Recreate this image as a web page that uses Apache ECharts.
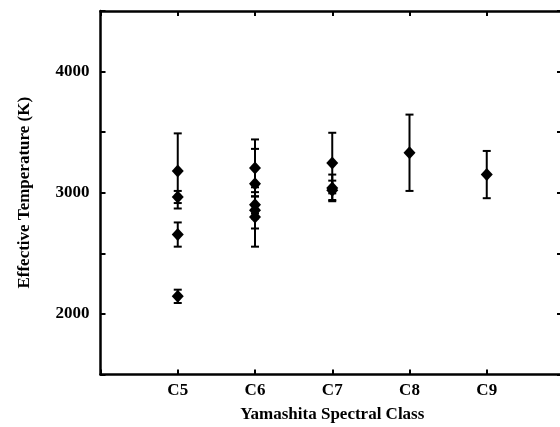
<!DOCTYPE html>
<html><head><meta charset="utf-8">
<script src="https://cdn.jsdelivr.net/npm/echarts@6/dist/echarts.min.js"></script>
<style>html,body{margin:0;padding:0;background:#fff}#c{width:560px;height:427px}</style>
</head><body><div id="c"></div>
<script>
var classLabels = ['C5','C6','C7','C8','C9'];
var classIndex = [5, 5, 5, 5, 6, 6, 6, 6, 6, 7, 7, 7, 8, 9];
var temps      = [3180, 2965, 2655, 2145, 3205, 3075, 2900, 2855, 2800, 3245, 3040, 3020, 3330, 3150];
var errors     = [310, 50, 100, 55, 235, 287, 70, 150, 245, 250, 110, 80, 315, 195];
var yTicks = [2000, 3000, 4000];

var F = '"Liberation Serif", "DejaVu Serif", serif';
var points = classIndex.map(function(c, i){ return [c, temps[i], errors[i]]; });

var axisLine = {show:true, lineStyle:{color:'#000', width:2.5}};
var ticks = {show:true, inside:true, length:5, lineStyle:{color:'#000', width:2}};
var ticksRight = {show:true, inside:true, length:7, lineStyle:{color:'#000', width:2}};

var chart = echarts.init(document.getElementById('c'));
chart.setOption({
  animation:false,
  backgroundColor:'#fff',
  grid:{left:100.5, top:11, width:463.5, height:363.5, outerBoundsMode:'none', containLabel:false},
  xAxis:[{
    type:'value', min:4, max:10, interval:1, position:'bottom',
    axisLine:axisLine, axisTick:ticks, splitLine:{show:false},
    axisLabel:{margin:8, fontFamily:F, fontWeight:'bold', fontSize:17, color:'#000',
      formatter:function(v){ var k=v-5; return (k>=0 && k<classLabels.length)?classLabels[k]:''; }},
    name:'Yamashita Spectral Class', nameLocation:'middle', nameGap:32,
    nameTextStyle:{fontFamily:F, fontWeight:'bold', fontSize:17, color:'#000'}
  },{
    type:'value', min:4, max:10, interval:1, position:'top',
    axisLine:axisLine, axisTick:ticks, axisLabel:{show:false}, splitLine:{show:false}
  }],
  yAxis:[{
    type:'value', min:1500, max:4500, interval:500, position:'left',
    axisLine:axisLine, axisTick:ticks, splitLine:{show:false},
    axisLabel:{margin:11, fontFamily:F, fontWeight:'bold', fontSize:17, color:'#000',
      formatter:function(v){ return yTicks.indexOf(v)>=0 ? String(v) : ''; }},
    name:'Effective Temperature (K)', nameLocation:'middle', nameGap:67, nameRotate:90,
    nameTextStyle:{fontFamily:F, fontWeight:'bold', fontSize:17, color:'#000'}
  },{
    type:'value', min:1500, max:4500, interval:500, position:'right',
    axisLine:axisLine, axisTick:ticksRight, axisLabel:{show:false}, splitLine:{show:false}
  }],
  series:[{
    type:'custom',
    data:points,
    renderItem:function(params, api){
      var x=api.value(0), y=api.value(1), e=api.value(2);
      var hi=api.coord([x, y+e]), lo=api.coord([x, y-e]);
      var w=4;
      var st={stroke:'#000', lineWidth:2};
      return {type:'group', children:[
        {type:'line', shape:{x1:hi[0],y1:hi[1],x2:lo[0],y2:lo[1]}, style:st},
        {type:'line', shape:{x1:hi[0]-w,y1:hi[1],x2:hi[0]+w,y2:hi[1]}, style:st},
        {type:'line', shape:{x1:lo[0]-w,y1:lo[1],x2:lo[0]+w,y2:lo[1]}, style:st}
      ]};
    },
    z:2
  },{
    type:'scatter',
    data:points,
    symbol:'diamond',
    symbolSize:[12,13],
    itemStyle:{color:'#000', opacity:1},
    z:3
  }]
});
</script></body></html>
